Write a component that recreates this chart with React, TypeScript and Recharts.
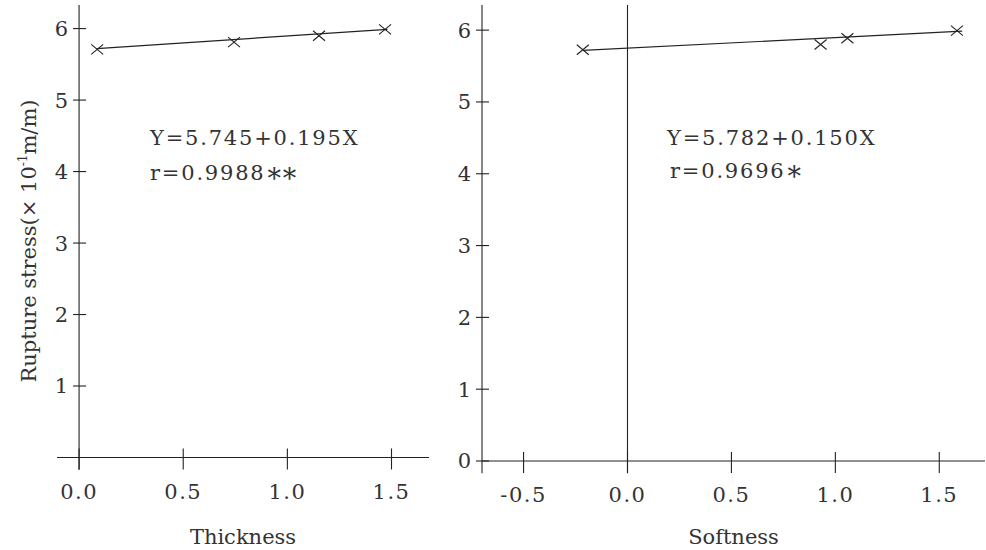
import { ScatterChart, Scatter, XAxis, YAxis, ReferenceLine } from "recharts";

// values
const thicknessX = [0.087, 0.744, 1.152, 1.469];
const thicknessY = [5.71, 5.81, 5.9, 5.99];
const thicknessFitX = [0.085, 1.48];
const thicknessFitY = [5.72, 5.99];
const thicknessTicks = [0, 0.5, 1, 1.5];

const softnessX = [-0.215, 0.929, 1.058, 1.585];
const softnessY = [5.727, 5.8, 5.887, 5.994];
const softnessFitX = [-0.215, 1.61];
const softnessFitY = [5.717, 5.985];
const softnessTicks = [-0.5, 0, 0.5, 1, 1.5];

const yTicks = [0, 1, 2, 3, 4, 5, 6];

const INK = "#222";
const TEXT = "#333";
const FONT = "'DejaVu Serif', serif";

const toPoints = (xs: number[], ys: number[]) => xs.map((x, i) => ({ x, y: ys[i] }));

const Cross = (props: any) => {
  const { cx, cy } = props;
  return (
    <path
      d={`M${cx - 6},${cy - 5}L${cx + 6},${cy + 5}M${cx - 6},${cy + 5}L${cx + 6},${cy - 5}`}
      stroke={INK}
      strokeWidth={1.1}
      fill="none"
    />
  );
};

const NoDot = () => <g />;

const XTick = (props: any) => {
  const { x, y, payload } = props;
  return (
    <g>
      <line x1={x} x2={x} y1={y - 9} y2={y + 12} stroke={INK} strokeWidth={1.1} />
      <text x={x} y={y + 41} textAnchor="middle" fill={TEXT} fontSize={21} fontFamily={FONT} letterSpacing={1.5}>
        {Number(payload.value).toFixed(1)}
      </text>
    </g>
  );
};

interface PanelProps {
  width: number;
  left: number;
  margin: { top: number; right: number; left: number; bottom: number };
  xDomain: [number, number];
  yDomain: [number, number];
  axisAt: number;
  zeroLine: boolean;
  zeroLabel: boolean;
  axisHeight: number;
  xTicks: number[];
  title: string;
  points: { x: number; y: number }[];
  fit: { x: number; y: number }[];
}

function Panel(p: PanelProps) {
  const tickSpan = (p.xDomain[1] - p.xDomain[0]) / (p.width - p.margin.left - p.margin.right);
  const vLine = (at: number) => (
    <ReferenceLine
      segment={[{ x: at, y: -0.17 }, { x: at, y: p.yDomain[1] }]}
      stroke={INK}
      strokeWidth={1.1}
      ifOverflow="visible"
    />
  );
  return (
    <div style={{ position: "absolute", left: p.left, top: 0 }}>
      <ScatterChart width={p.width} height={550} margin={p.margin}>
        <XAxis
          type="number"
          dataKey="x"
          domain={p.xDomain}
          allowDataOverflow
          ticks={p.xTicks}
          interval={0}
          tickSize={0}
          tickMargin={0}
          tickLine={false}
          tick={<XTick />}
          height={p.axisHeight}
          axisLine={{ stroke: INK, strokeWidth: 1.1 }}
          label={{ value: p.title, position: "insideBottom", offset: 6, fill: TEXT, fontSize: 21, fontFamily: FONT }}
        />
        <YAxis type="number" dataKey="y" domain={p.yDomain} allowDataOverflow hide />
        {vLine(p.axisAt)}
        {p.zeroLine && vLine(0)}
        {yTicks
          .filter((t) => t > 0 || p.zeroLabel)
          .map((t) => (
            <ReferenceLine
              key={t}
              segment={[{ x: p.axisAt - 6 * tickSpan, y: t }, { x: p.axisAt + 7 * tickSpan, y: t }]}
              stroke={INK}
              strokeWidth={1.1}
              ifOverflow="visible"
              label={{ value: String(t), position: "left", offset: 5, fill: TEXT, fontSize: 21, fontFamily: FONT }}
            />
          ))}
        <Scatter data={p.fit} line={{ stroke: INK, strokeWidth: 1.2 }} shape={<NoDot />} isAnimationActive={false} />
        <Scatter data={p.points} shape={<Cross />} isAnimationActive={false} />
      </ScatterChart>
    </div>
  );
}

export default function App() {
  const txt = { fill: TEXT, fontSize: 21, fontFamily: FONT, letterSpacing: 1.8 };
  return (
    <div style={{ position: "absolute", left: 0, top: 0, width: 986, height: 550, background: "#fff" }}>
      <Panel
        width={440}
        left={0}
        margin={{ top: 5, right: 11, left: 57, bottom: 0 }}
        xDomain={[-0.106, 1.68]}
        yDomain={[0, 6.33]}
        axisAt={0}
        zeroLine={false}
        zeroLabel={false}
        axisHeight={92.5}
        xTicks={thicknessTicks}
        title="Thickness"
        points={toPoints(thicknessX, thicknessY)}
        fit={toPoints(thicknessFitX, thicknessFitY)}
      />
      <Panel
        width={546}
        left={440}
        margin={{ top: 5, right: 1, left: 42, bottom: 0 }}
        xDomain={[-0.7, 1.72]}
        yDomain={[0, 6.35]}
        axisAt={-0.7}
        zeroLine={true}
        zeroLabel={true}
        axisHeight={89}
        xTicks={softnessTicks}
        title="Softness"
        points={toPoints(softnessX, softnessY)}
        fit={toPoints(softnessFitX, softnessFitY)}
      />
      <svg width={986} height={550} style={{ position: "absolute", left: 0, top: 0, pointerEvents: "none" }}>
        <text transform="translate(36,241) rotate(-90)" textAnchor="middle" fill={TEXT} fontSize={21} fontFamily={FONT}>
          Rupture stress(× 10<tspan fontSize={12} dy={-9}>-1</tspan>
          <tspan dy={9}>m/m)</tspan>
        </text>
        <text x={150} y={145} {...txt}>Y=5.745+0.195X</text>
        <text x={150} y={180} {...txt}>
          r=0.9988<tspan fontSize={27} dy={8} dx={2}>**</tspan>
        </text>
        <text x={667} y={145} {...txt}>Y=5.782+0.150X</text>
        <text x={670} y={178} {...txt}>
          r=0.9696<tspan fontSize={27} dy={8} dx={2}>*</tspan>
        </text>
      </svg>
    </div>
  );
}
